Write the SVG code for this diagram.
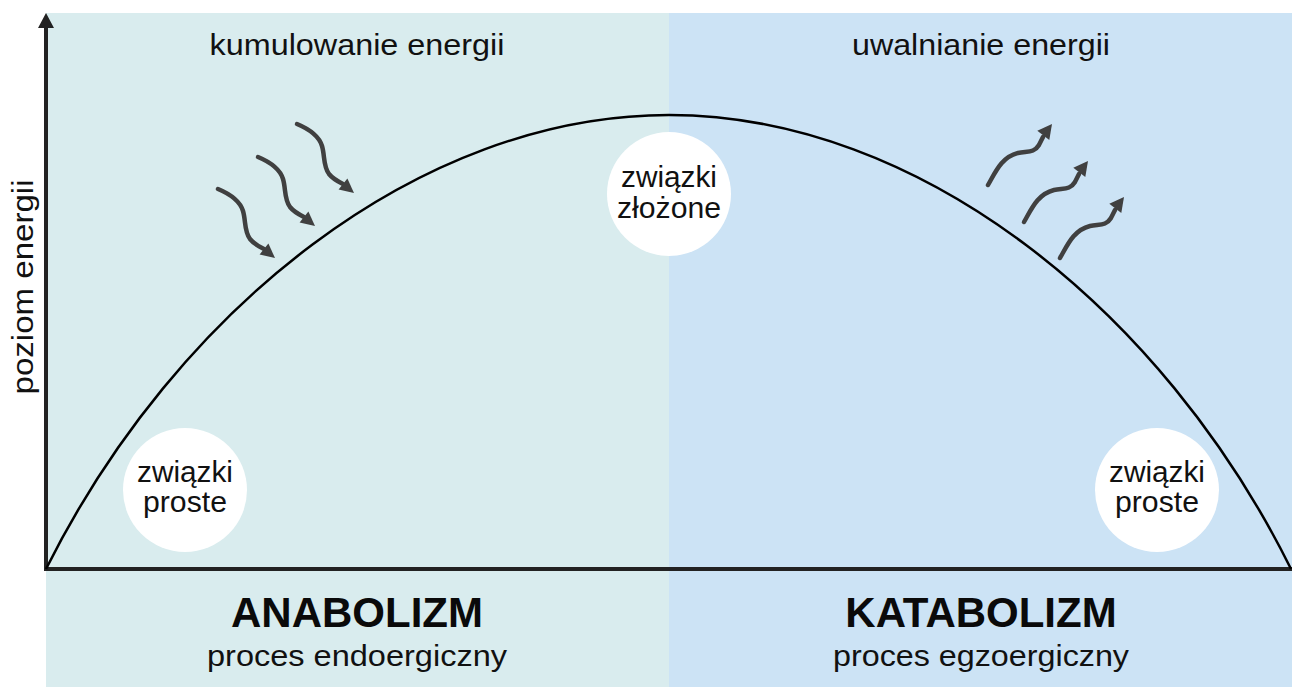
<svg xmlns="http://www.w3.org/2000/svg" width="1292" height="687" viewBox="0 0 1292 687">
<style>
.lbl{font-family:"Liberation Sans",Arial,sans-serif;font-size:30px;fill:#111;text-anchor:middle}
.big{font-family:"Liberation Sans",Arial,sans-serif;font-size:42px;font-weight:bold;fill:#0a0a0a;text-anchor:middle}
.bub{fill:#ffffff}
.shaft{fill:none;stroke:#404040;stroke-width:4.5;stroke-linecap:round}
.head{fill:#404040}
</style>
<defs>
<g id="arrowDown">
<path class="shaft" d="M0,0 C12,5 22,12 25,22 C28,32 26,42 32,50 C36,55 40,57 46,60"/>
<polygon class="head" points="57,69 50.4,54.6 41.6,65.4"/>
</g>
<g id="arrowUp">
<path class="shaft" d="M0,0 C8,-14 14,-28 30,-32 C40,-34 46,-32 51,-40 L55,-48"/>
<polygon class="head" points="64,-61 49.3,-54.3 61.3,-45"/>
</g>
</defs>
<rect width="1292" height="687" fill="#ffffff"/>
<g id="panels">
<rect x="46" y="13" width="623" height="674" fill="#d9ecee"/>
<rect x="669" y="13" width="623" height="674" fill="#cce3f5"/>
</g>
<g id="labels-top">
<text class="lbl" x="357" y="55" textLength="295" lengthAdjust="spacingAndGlyphs">kumulowanie energii</text>
<text class="lbl" x="981" y="55" textLength="258" lengthAdjust="spacingAndGlyphs">uwalnianie energii</text>
</g>
<g id="axes">
<line x1="46" y1="569" x2="46" y2="26" stroke="#222" stroke-width="4"/>
<polygon points="46,13 38,28 54,28" fill="#222"/>
<line x1="44" y1="569" x2="1292" y2="569" stroke="#222" stroke-width="4"/>
<text class="lbl" transform="translate(33,287) rotate(-90)" x="0" y="0" textLength="215" lengthAdjust="spacingAndGlyphs">poziom energii</text>
</g>
<g id="curve">
<path fill="none" stroke="#000" stroke-width="2.5" d="M46,569 C176,309 419,115 669,115 C919,115 1162,309 1291,569"/>
</g>
<g id="arrows-in">
<use href="#arrowDown" transform="translate(218,189)"/>
<use href="#arrowDown" transform="translate(258,157)"/>
<use href="#arrowDown" transform="translate(297,124)"/>
</g>
<g id="arrows-out">
<use href="#arrowUp" transform="translate(988,185)"/>
<use href="#arrowUp" transform="translate(1024,222)"/>
<use href="#arrowUp" transform="translate(1060,258)"/>
</g>
<g id="node-proste-left">
<circle class="bub" cx="185" cy="490" r="62"/>
<text class="lbl" x="185" y="482" textLength="96" lengthAdjust="spacingAndGlyphs">związki</text>
<text class="lbl" x="185" y="512" textLength="84" lengthAdjust="spacingAndGlyphs">proste</text>
</g>
<g id="node-zlozone">
<circle class="bub" cx="669" cy="194" r="62"/>
<text class="lbl" x="669" y="187" textLength="96" lengthAdjust="spacingAndGlyphs">związki</text>
<text class="lbl" x="669" y="218" textLength="104" lengthAdjust="spacingAndGlyphs">złożone</text>
</g>
<g id="node-proste-right">
<circle class="bub" cx="1157" cy="490" r="62"/>
<text class="lbl" x="1157" y="482" textLength="96" lengthAdjust="spacingAndGlyphs">związki</text>
<text class="lbl" x="1157" y="512" textLength="84" lengthAdjust="spacingAndGlyphs">proste</text>
</g>
<g id="label-anabolizm">
<text class="big" x="357" y="627">ANABOLIZM</text>
<text class="lbl" x="357" y="666" textLength="300" lengthAdjust="spacingAndGlyphs">proces endoergiczny</text>
</g>
<g id="label-katabolizm">
<text class="big" x="981" y="627">KATABOLIZM</text>
<text class="lbl" x="981" y="666" textLength="296" lengthAdjust="spacingAndGlyphs">proces egzoergiczny</text>
</g>
</svg>
